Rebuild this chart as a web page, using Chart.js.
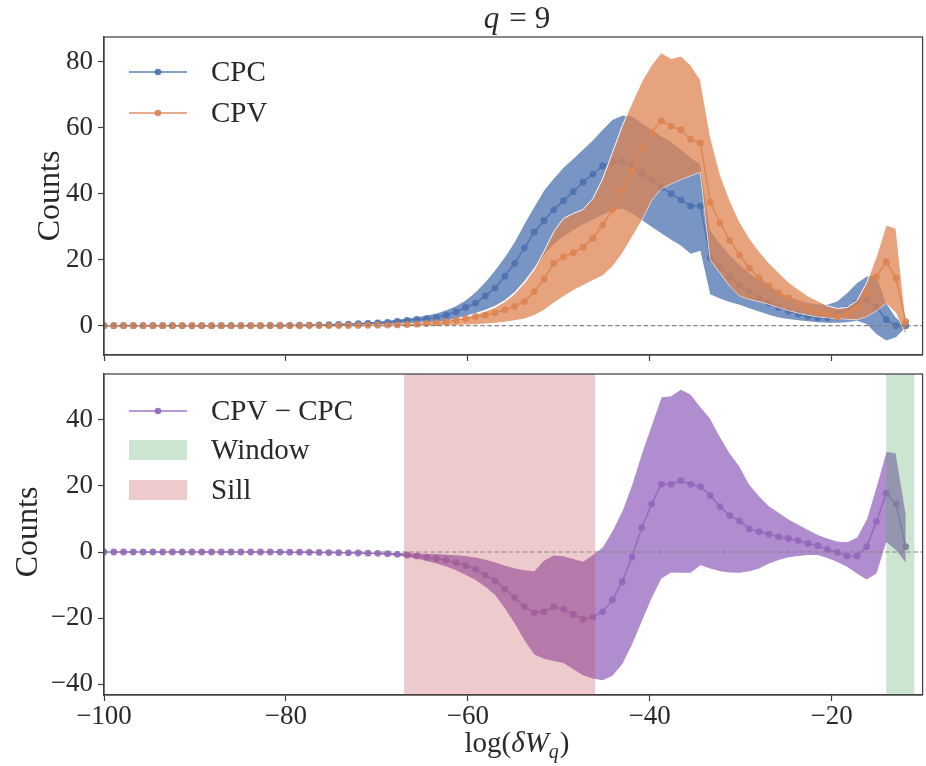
<!DOCTYPE html>
<html><head><meta charset="utf-8">
<script src="https://cdn.jsdelivr.net/npm/chart.js@4.4.0/dist/chart.umd.min.js"></script>
<style>
html,body{margin:0;padding:0;background:#fff;}
#wrap{position:relative;width:926px;height:766px;overflow:hidden;background:#fff;}
canvas{position:absolute;left:0;}
</style></head><body>
<div id="wrap">
<canvas id="c1" width="926" height="366" style="top:0px"></canvas>
<canvas id="c2" width="926" height="400" style="top:366px"></canvas>
</div>
<script>
// ---------------- data ----------------
const xs = [-100,-98.925,-97.85,-96.775,-95.7,-94.625,-93.55,-92.475,-91.4,-90.325,
-89.25,-88.175,-87.1,-86.025,-84.95,-83.875,-82.8,-81.725,-80.65,-79.575,
-78.5,-77.425,-76.35,-75.275,-74.2,-73.125,-72.05,-70.975,-69.9,-68.825,
-67.75,-66.675,-65.6,-64.525,-63.45,-62.375,-61.3,-60.225,-59.15,-58.075,
-57,-55.925,-54.85,-53.775,-52.7,-51.625,-50.55,-49.475,-48.4,-47.325,
-46.25,-45.175,-44.1,-43.025,-41.95,-40.875,-39.8,-38.725,-37.65,-36.575,
-35.5,-34.425,-33.35,-32.275,-31.2,-30.125,-29.05,-27.975,-26.9,-25.825,
-24.75,-23.675,-22.6,-21.525,-20.45,-19.375,-18.3,-17.225,-16.15,-15.075,
-14,-12.925,-11.85];

const cpc = [0,0,0,0,0,0,0,0,0,0, 0,0,0,0,0,0.02,0.03,0.05,0.07,0.1,
0.13,0.17,0.22,0.3,0.38,0.47,0.58,0.7,0.82,1.0, 1.25,1.6,1.9,2.1,2.5,3.2,4.2,5.5,6.8,9.0,
11.4,15.0,18.9,23.6,28.4,31.8,35.1,37.9,40.6,43.5, 45.9,48.4,49.6,49.7,48.6,46.2,44.2,41.9,40.0,38.1,
36.3,36.3,20.6,17.7,14.8,12.2,10.3,8.5,6.8,5.5, 4.4,3.5,2.8,2.4,2.3,3.5,5.0,6.8,7.8,5.7,
1.8,0.0,0.0];
const cpcLo = [0,0,0,0,0,0,0,0,0,0, 0,0,0,0,0,0,0,0,0,0,
0.05,0.07,0.09,0.12,0.16,0.2,0.25,0.32,0.4,0.5, 0.6,0.7,0.85,1.0,1.2,1.5,2.2,3.0,3.8,4.8,
6.0,7.8,10.2,13.5,17.5,21.5,24.8,27.0,29.0,30.7, 32.2,33.6,35.0,35.5,34.0,32.0,30.0,28.0,26.0,24.3,
21.8,22.7,9.5,8.2,7.2,6.3,5.3,4.3,3.3,2.5, 2.0,1.6,1.3,1.0,0.9,0.9,1.0,1.5,0.5,-2.5,
-4.5,-3.5,-0.5];
const cpcHi = [0,0,0,0,0,0,0,0,0,0, 0,0,0,0,0,0.04,0.06,0.09,0.13,0.18,
0.24,0.31,0.4,0.5,0.62,0.76,0.92,1.1,1.35,1.65, 2.0,2.3,2.7,3.2,3.8,4.8,6.0,7.8,10.2,13.3,
16.9,20.9,25.5,31.0,36.1,41.1,44.7,48.0,50.7,53.5, 56.3,59.5,62.5,63.8,63.6,61.5,59.5,57.5,55.8,53.5,
51.0,49.0,29.0,25.0,21.5,18.5,16.0,14.0,12.0,10.3, 9.0,7.8,7.0,6.6,6.5,7.5,10.0,13.0,15.0,15.5,
7.0,2.5,0.3];

const cpv = [0,0,0,0,0,0,0,0,0,0, 0,0,0,0,0,0,0,0,0,0,
0,0.01,0.02,0.03,0.04,0.05,0.07,0.09,0.12,0.16, 0.22,0.35,0.45,0.65,0.9,1.2,1.7,2.2,2.7,3.2,
3.9,4.8,5.8,7.3,10.3,14.1,18.9,20.9,22.1,23.8, 26.5,30.5,35.1,40.9,47.0,53.5,58.6,62.1,60.5,59.3,
56.5,55.3,37.4,31.2,25.8,21.4,17.4,14.5,12.0,10.0, 8.5,6.8,5.3,4.2,3.5,2.7,3.5,5.3,9.8,14.8,
19.4,14.4,1.2];
const cpvLo = [0,0,0,0,0,0,0,0,0,0, 0,0,0,0,0,0,0,0,0,0,
0,0,0,0,0,0,0,0,0,0, 0.02,0.03,0.05,0.07,0.1,0.15,0.22,0.32,0.45,0.65,
0.9,1.2,1.6,2.2,3.2,4.8,7.0,9.0,10.8,12.3, 13.8,15.3,18.0,22.0,27.0,32.0,38.0,41.5,43.0,44.3,
45.5,46.5,20.0,16.0,12.0,9.0,8.0,7.3,6.5,5.5, 4.6,3.8,3.2,2.7,2.4,2.2,2.0,1.8,2.8,4.5,
6.8,4.0,-2.5];
const cpvHi = [0,0,0,0,0,0,0,0,0,0, 0,0,0,0,0,0,0,0,0,0,
0,0,0,0,0,0.08,0.1,0.13,0.17,0.23, 0.3,0.45,0.6,0.8,1.0,1.3,1.9,2.6,3.4,4.4,
5.6,7.3,9.7,13.0,17.0,22.5,28.5,32.5,34.0,35.2, 38.5,44.5,52.5,60.5,67.5,74.0,79.0,82.7,81.0,81.7,
79.0,74.5,57.5,46.0,38.0,31.5,26.5,22.5,19.0,16.0, 13.2,11.0,9.0,7.5,6.0,5.2,5.5,7.5,13.0,21.0,
30.5,29.5,1.5];

const diff = [0,0,0,0,0,0,0,0,0,0, 0,0,0,0,0,0,0,0,-0.02,-0.04,
-0.06,-0.09,-0.12,-0.16,-0.2,-0.25,-0.3,-0.35,-0.4,-0.5, -0.7,-0.9,-1.2,-1.6,-2.0,-2.5,-3.2,-4.1,-5.2,-7.0,
-8.7,-11.2,-13.8,-16.6,-18.4,-18.1,-16.6,-17.3,-18.9,-20.3, -19.7,-18.1,-14.5,-9.0,-1.5,7.4,14.5,20.5,20.5,21.6,
20.5,19.8,17.1,13.7,11.0,9.4,7.0,6.2,5.4,4.6, 4.1,3.5,2.6,1.9,0.8,-0.1,-1.2,-1.2,1.6,9.2,
17.8,14.5,1.6];
const diffLo = [0,0,0,0,0,0,0,0,0,0, 0,0,0,0,0,0,0,0,-0.03,-0.05,
-0.08,-0.11,-0.15,-0.2,-0.26,-0.34,-0.44,-0.56,-0.7,-0.9, -1.15,-1.5,-2.0,-2.7,-3.5,-4.4,-5.5,-7.0,-8.5,-10.5,
-13.0,-17.0,-21.6,-26.7,-31.0,-32.3,-33.0,-33.6,-35.5,-37.3, -38.3,-38.8,-37.5,-34.0,-28.0,-21.0,-14.0,-8.0,-6.2,-6.3,
-6.3,-4.0,-5.0,-5.8,-6.2,-6.3,-5.8,-5.0,-3.5,-2.4, -1.6,-1.2,-0.9,-0.9,-1.8,-3.0,-4.5,-6.5,-8.3,-6.5,
3.0,0.6,-3.2];
const diffHi = [0,0,0,0,0,0,0,0,0,0, 0,0,0,0,0,0,0,0,-0.01,-0.02,
-0.03,-0.04,-0.05,-0.06,-0.07,-0.08,-0.1,-0.12,-0.14,-0.17, -0.2,-0.25,-0.3,-0.4,-0.5,-0.65,-0.85,-1.1,-1.5,-2.2,
-3.0,-4.0,-4.8,-5.4,-5.7,-2.5,-0.9,-1.2,-2.0,-2.8, -0.8,1.5,6.5,12.5,20.5,30.0,38.5,47.0,47.3,49.3,
47.8,44.0,40.5,35.0,30.0,26.0,20.5,17.0,14.0,12.0, 10.0,8.4,6.8,5.3,4.2,3.3,3.1,4.5,10.0,20.0,
30.5,30.0,12.0];

const sillRange = [-67, -46];
const windowRange = [-14, -10.9];

const xTicks = [-100, -80, -60, -40, -20];
const yTicksTop = [0, 20, 40, 60, 80];
const yTicksBottom = [-40, -20, 0, 20, 40];
const yRangeTop = [-8.9, 87.5];
const yRangeBottom = [-43.3, 53.9];

// ---------------- style ----------------
const FONT = '"Liberation Serif","DejaVu Serif","Times New Roman",serif';
const AX = '#404040';
const TXT = '#2a2a2a';
const BLUE = 'rgba(76,114,176,0.9)',   BLUE_F = 'rgba(76,114,176,0.75)';
const ORANGE = 'rgba(221,132,82,0.9)', ORANGE_F = 'rgba(221,132,82,0.75)';
const PURPLE = 'rgba(148,103,189,0.9)',PURPLE_F = 'rgba(148,103,189,0.75)';
const WIN_C = 'rgba(85,168,104,0.3)', SILL_C = 'rgba(196,78,82,0.3)';
const EDGE = 'rgba(255,255,255,0.95)';

Chart.defaults.font.family = FONT;
Chart.defaults.color = TXT;

const fmt = v => (v < 0 ? '\u2212' + Math.abs(v) : String(v));
const pts = ys => xs.map((x, i) => ({x: x, y: ys[i]}));

function xScale(showLabels, h) {
  return {
    type: 'linear', min: -100, max: -10,
    afterBuildTicks: s => { s.ticks = xTicks.map(v => ({value: v})); },
    afterFit: s => { s.height = h; s.paddingLeft = 0; s.paddingRight = 0; s.paddingTop = 0; s.paddingBottom = 0; },
    grid: {drawOnChartArea: false, drawTicks: true, tickLength: 6, tickColor: AX, tickWidth: 1.2},
    border: {display: true, color: AX, width: 1.25},
    ticks: {display: showLabels, autoSkip: false, maxRotation: 0, color: TXT,
            font: {family: FONT, size: 27}, padding: 0, callback: v => fmt(v)}
  };
}
function yScale(range, ticks) {
  return {
    type: 'linear', min: range[0], max: range[1],
    afterBuildTicks: s => { s.ticks = ticks.map(v => ({value: v})); },
    afterFit: s => { s.width = 104; s.paddingTop = 0; s.paddingBottom = 0; s.paddingLeft = 0; s.paddingRight = 0; },
    grid: {drawOnChartArea: false, drawTicks: true, tickLength: 6, tickColor: AX, tickWidth: 1.2},
    border: {display: true, color: AX, width: 1.25},
    ticks: {autoSkip: false, color: TXT, font: {family: FONT, size: 27}, padding: 5, callback: v => fmt(v)}
  };
}
function band(lo, hi, fillColor, order) {
  return [
    {data: pts(lo), borderColor: EDGE, borderWidth: 1, pointRadius: 0, fill: false, order: order + 1},
    {data: pts(hi), borderColor: EDGE, borderWidth: 1, pointRadius: 0, fill: '-1', backgroundColor: fillColor, order: order}
  ];
}
function line(ys, color, order) {
  return {data: pts(ys), borderColor: color, borderWidth: 1.5, pointRadius: 3.4, pointHoverRadius: 3.4,
          pointBackgroundColor: color, pointBorderWidth: 0, fill: false, order: order};
}

function drawRich(ctx, parts, cx, by, base) {
  let w = 0;
  parts.forEach(p => {
    ctx.font = (p.it ? 'italic ' : '') + (p.size || base) + 'px ' + FONT;
    p.w = ctx.measureText(p.t).width + (p.gap || 0);
    w += p.w;
  });
  let x = cx - w / 2;
  parts.forEach(p => {
    ctx.font = (p.it ? 'italic ' : '') + (p.size || base) + 'px ' + FONT;
    ctx.fillText(p.t, x, by + (p.dy || 0));
    x += p.w;
  });
}

const deco = {
  id: 'deco',
  afterDatasetsDraw(chart, args, o) {
    const {ctx, chartArea: a, scales: {x, y}} = chart;
    ctx.save();
    ctx.beginPath(); ctx.rect(a.left, a.top, a.right - a.left, a.bottom - a.top); ctx.clip();
    (o.spans || []).forEach(sp => {
      const x0 = x.getPixelForValue(sp.r[0]), x1 = x.getPixelForValue(sp.r[1]);
      ctx.fillStyle = sp.c;
      ctx.fillRect(x0, a.top, x1 - x0, a.bottom - a.top);
    });
    const y0 = y.getPixelForValue(0);
    ctx.beginPath();
    ctx.setLineDash([4.5, 2.6]);
    ctx.strokeStyle = 'rgba(128,128,128,0.95)';
    ctx.lineWidth = 1.2;
    ctx.moveTo(a.left, y0); ctx.lineTo(a.right, y0); ctx.stroke();
    ctx.restore();
  },
  afterDraw(chart, args, o) {
    const {ctx, chartArea: a} = chart;
    const off = o.offset || 0;
    ctx.save();
    ctx.strokeStyle = AX; ctx.lineWidth = 1.25;
    ctx.strokeRect(a.left, a.top, a.right - a.left, a.bottom - a.top);
    // legend
    ctx.textBaseline = 'middle';
    (o.legend || []).forEach(it => {
      const yy = it.y - off;
      if (it.kind === 'line') {
        ctx.strokeStyle = it.color; ctx.lineWidth = 1.5;
        ctx.beginPath(); ctx.moveTo(129, yy); ctx.lineTo(187, yy); ctx.stroke();
        ctx.fillStyle = it.color;
        ctx.beginPath(); ctx.arc(158, yy, 3.3, 0, Math.PI * 2); ctx.fill();
      } else {
        ctx.fillStyle = it.color;
        ctx.fillRect(129, yy - 10, 58, 20);
      }
      ctx.fillStyle = TXT;
      ctx.font = '29px ' + FONT;
      ctx.fillText(it.label, 211, yy + 1);
    });
    ctx.textBaseline = 'alphabetic';
    ctx.fillStyle = TXT;
    // y label
    ctx.save();
    ctx.translate(o.ylab.x, o.ylab.y - off);
    ctx.rotate(-Math.PI / 2);
    ctx.textAlign = 'center';
    ctx.font = '32px ' + FONT;
    ctx.fillText('Counts', 0, 0);
    ctx.restore();
    (o.rich || []).forEach(r => drawRich(ctx, r.parts, r.x, r.y - off, r.size));
    ctx.restore();
  }
};

const common = {
  type: 'line',
  plugins: [deco]
};

new Chart(document.getElementById('c1'), {
  ...common,
  data: {datasets: [
    ...band(cpcLo, cpcHi, BLUE_F, 9),
    line(cpc, BLUE, 8),
    ...band(cpvLo, cpvHi, ORANGE_F, 6),
    line(cpv, ORANGE, 5)
  ]},
  options: {
    responsive: false, animation: false, devicePixelRatio: 1, events: [],
    layout: {padding: {left: 0, right: 1, top: 37, bottom: 0}},
    scales: {x: xScale(false, 11), y: yScale(yRangeTop, yTicksTop)},
    plugins: {
      legend: {display: false}, tooltip: {enabled: false},
      deco: {
        offset: 0,
        legend: [
          {kind: 'line', color: BLUE, label: 'CPC', y: 72},
          {kind: 'line', color: ORANGE, label: 'CPV', y: 113}
        ],
        ylab: {x: 59, y: 196},
        rich: [{x: 517, y: 28, size: 31, parts: [{t: 'q', it: true, gap: 10}, {t: '=', gap: 8}, {t: '9'}]}]
      }
    }
  }
});

new Chart(document.getElementById('c2'), {
  ...common,
  data: {datasets: [
    ...band(diffLo, diffHi, PURPLE_F, 6),
    line(diff, PURPLE, 5)
  ]},
  options: {
    responsive: false, animation: false, devicePixelRatio: 1, events: [],
    layout: {padding: {left: 0, right: 1, top: 8, bottom: 0}},
    scales: {x: xScale(true, 71), y: yScale(yRangeBottom, yTicksBottom)},
    plugins: {
      legend: {display: false}, tooltip: {enabled: false},
      deco: {
        offset: 366,
        spans: [{r: sillRange, c: SILL_C}, {r: windowRange, c: WIN_C}],
        legend: [
          {kind: 'line', color: PURPLE, label: 'CPV \u2212 CPC', y: 411},
          {kind: 'patch', color: WIN_C, label: 'Window', y: 450},
          {kind: 'patch', color: SILL_C, label: 'Sill', y: 490}
        ],
        ylab: {x: 37, y: 532},
        rich: [{x: 517, y: 752, size: 29, parts: [
          {t: 'log('}, {t: '\u03B4W', it: true}, {t: 'q', it: true, size: 20, dy: 6, gap: 1}, {t: ')'}
        ]}]
      }
    }
  }
});
</script>
</body></html>
